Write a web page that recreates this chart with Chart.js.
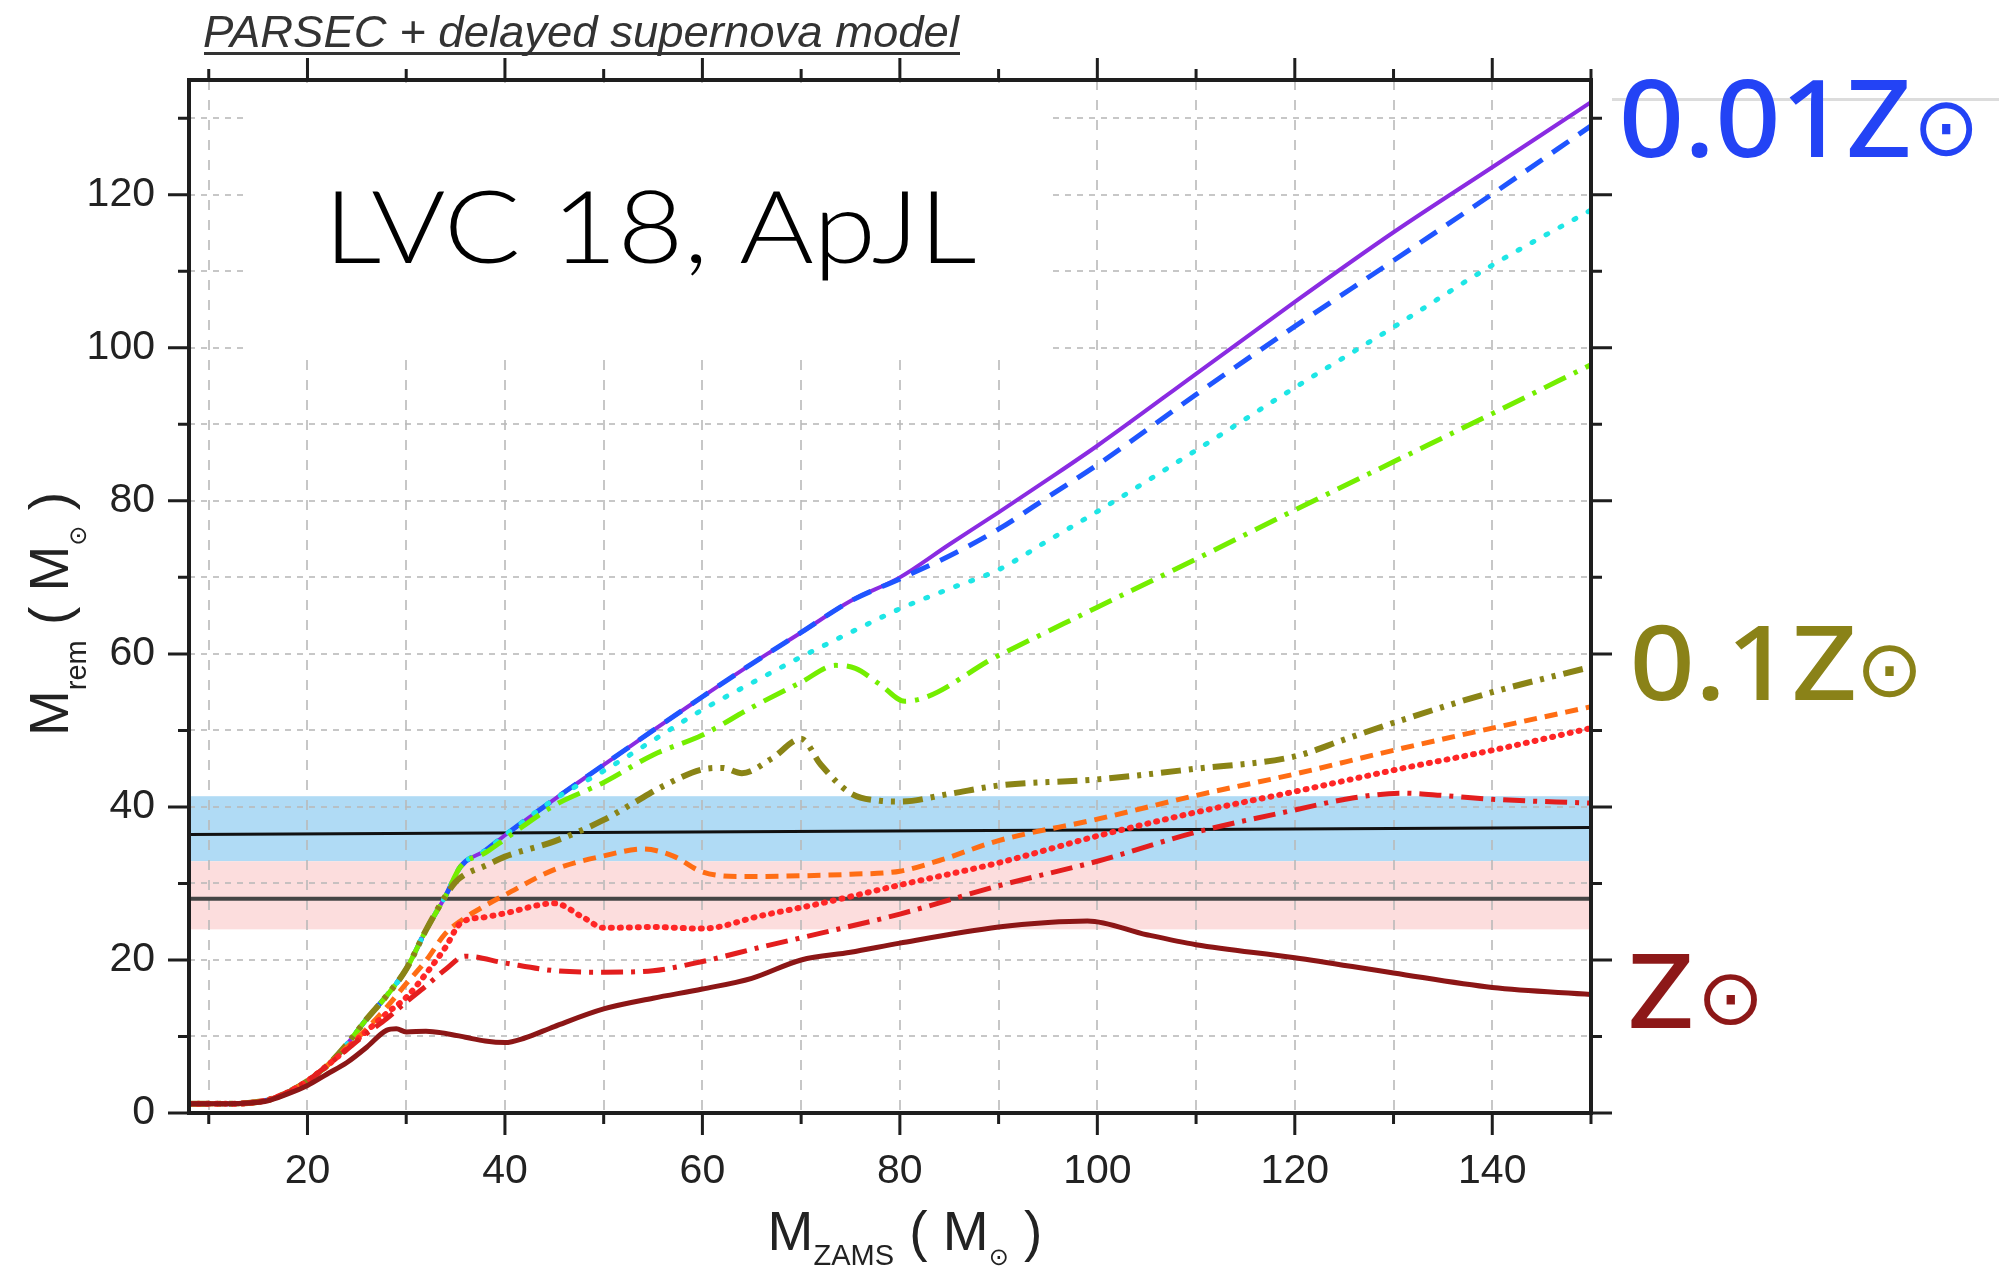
<!DOCTYPE html>
<html>
<head>
<meta charset="utf-8">
<script src="https://cdn.jsdelivr.net/npm/chart.js@4.4.1/dist/chart.umd.min.js"></script>
<style>
  html, body { margin: 0; padding: 0; background: #fff; }
  canvas { display: block; }
</style>
</head>
<body>
<canvas id="grafico" width="1999" height="1268"></canvas>
<script>
// ---- dados (massa ZAMS -> massa do remanescente) ----

const massaBaixa = [8, 10, 12, 14, 16, 18, 20, 22]
const restoBaixo = [1.2, 1.2, 1.2, 1.3, 1.7, 2.7, 4.2, 6.2]

// 0.01 Z sol (roxo, azul, ciano)
const massaRoxo = massaBaixa.concat([24, 26, 28, 30, 32, 34, 35.5, 38, 40, 45, 50, 55, 60, 65, 70, 75, 80, 85, 90, 95, 100, 110, 120, 130, 140, 150])
const restoRoxo = restoBaixo.concat([9.0, 12.3, 15.3, 18.8, 23.9, 28.4, 32.2, 34.3, 36.3, 41.0, 45.5, 50.0, 54.4, 58.7, 62.8, 66.9, 70.0, 74.3, 78.5, 82.8, 87.2, 96.6, 106.0, 115.1, 123.6, 132.1])

const massaAzul = massaBaixa.concat([24, 26, 28, 30, 32, 34, 35.5, 38, 40, 45, 50, 55, 60, 65, 70, 75, 80, 85, 90, 95, 100, 110, 120, 130, 140, 150])
const restoAzul = restoBaixo.concat([9.0, 12.3, 15.3, 18.8, 23.9, 28.4, 32.2, 34.3, 36.3, 41.0, 45.5, 50.0, 54.4, 58.7, 62.8, 66.9, 69.8, 72.8, 76.3, 80.5, 84.7, 93.9, 102.8, 111.4, 120.1, 129.0])

const massaCiano = massaBaixa.concat([24, 26, 28, 30, 32, 34, 35.5, 38, 40, 45, 50, 55, 60, 65, 70, 75, 80, 85, 90, 95, 100, 110, 120, 130, 140, 150])
const restoCiano = restoBaixo.concat([9.0, 12.3, 15.3, 18.8, 23.9, 28.4, 32.2, 34.3, 36.3, 41.0, 44.7, 48.7, 52.7, 56.2, 59.6, 62.8, 65.9, 68.5, 71.0, 74.8, 78.6, 86.6, 94.8, 102.7, 110.8, 118.0])

// 0.1 Z sol (verde, oliva, laranja)
const massaVerde = massaBaixa.concat([24, 26, 28, 30, 32, 34, 35.5, 38, 40, 45, 50, 55, 60, 65, 70, 73.5, 75.5, 78, 80.5, 90, 100, 110, 120, 130, 140, 150])
const restoVerde = restoBaixo.concat([9.0, 12.3, 15.3, 18.8, 23.9, 28.4, 32.2, 34.0, 35.8, 40.2, 43.2, 46.8, 49.4, 53.0, 56.3, 58.5, 58.1, 56.0, 53.8, 59.8, 66.1, 72.4, 78.8, 85.1, 91.4, 97.8])

const massaOliva = massaBaixa.concat([24, 26, 28, 30, 32, 34, 35, 36, 38, 40, 45, 50, 53, 56, 60, 62, 64, 67, 70, 72, 75, 78, 80, 85, 90, 100, 110, 120, 125, 130, 140, 150])
const restoOliva = restoBaixo.concat([9.0, 12.3, 15.3, 18.8, 23.9, 28.4, 30.2, 31.2, 32.3, 33.5, 35.5, 38.3, 40.5, 42.7, 44.9, 45.1, 44.4, 46.3, 48.9, 45.5, 41.8, 40.8, 40.7, 41.7, 42.8, 43.6, 45.0, 46.6, 48.8, 51.0, 55.0, 58.3])

const massaLaranja = massaBaixa.concat([24, 26, 28, 30, 32, 34, 35.6, 38, 40, 45, 50, 54, 57, 60, 64, 70, 75, 80, 84, 90, 100, 110, 120, 130, 140, 150])
const restoLaranja = restoBaixo.concat([8.6, 11.0, 13.8, 16.9, 19.9, 23.5, 25.2, 27.1, 28.5, 31.8, 33.6, 34.5, 33.6, 31.5, 30.9, 31.0, 31.2, 31.6, 33.0, 35.6, 38.4, 41.5, 44.3, 47.4, 50.3, 53.1])

// Z sol (vermelho pontilhado, vermelho traco-ponto, vinho)
const massaVermelho = massaBaixa.concat([24, 26, 28, 30, 32, 34, 35.5, 38, 40, 45, 48, 50, 55, 60, 66, 72, 80, 90, 100, 110, 120, 130, 140, 150])
const restoVermelho = restoBaixo.concat([8.4, 10.7, 13.0, 15.1, 18.2, 21.7, 24.8, 25.6, 26.1, 27.4, 25.5, 24.2, 24.3, 24.1, 25.8, 27.4, 29.8, 32.7, 36.2, 39.3, 42.0, 44.8, 47.4, 50.3])

const massaTracoPonto = massaBaixa.concat([24, 26, 28, 30, 32, 34, 36, 40, 45, 50, 55, 60, 66, 72, 80, 90, 100, 110, 120, 126, 131, 135, 140, 150])
const restoTracoPonto = restoBaixo.concat([8.3, 10.4, 12.3, 14.5, 16.6, 18.8, 20.5, 19.6, 18.6, 18.4, 18.6, 19.8, 21.7, 23.5, 26.0, 29.7, 32.9, 36.7, 39.6, 41.2, 41.8, 41.5, 41.0, 40.5])

const massaVinho = [8, 10, 12, 14, 16, 18, 20, 22, 24, 26, 28, 29, 30, 32, 34, 36, 38, 40, 42, 45, 50, 55, 60, 65, 70, 75, 80, 90, 95, 99, 105, 110, 120, 130, 140, 150]
const restoVinho = [1.2, 1.2, 1.2, 1.3, 1.6, 2.5, 3.6, 5.1, 6.6, 8.6, 10.8, 11.0, 10.6, 10.7, 10.4, 9.9, 9.4, 9.2, 9.8, 11.3, 13.6, 15.0, 16.2, 17.6, 20.0, 21.0, 22.2, 24.3, 24.9, 25.1, 23.3, 22.0, 20.3, 18.3, 16.4, 15.5]

// faixas e linhas horizontais (massas observadas)
const faixaAzul = [32.9, 41.4]
const faixaRosa = [24.0, 32.9]
const extremosLinha = [8, 150]
const linhaM1 = [36.4, 37.3]
const linhaM2 = [28.0, 28.0]

// eixos
const marcasX = [10, 20, 30, 40, 50, 60, 70, 80, 90, 100, 110, 120, 130, 140, 150]
const rotulosX = [20, 40, 60, 80, 100, 120, 140]
const marcasY = [0, 10, 20, 30, 40, 50, 60, 70, 80, 90, 100, 110, 120, 130]
const rotulosY = [0, 20, 40, 60, 80, 100, 120]

/*========================================================*/

function serie(massas, restos, cor, largura, traco, ordem, ponta){
    return {
        data: massas.map((m, i) => ({ x: m, y: restos[i] })),
        borderColor: cor,
        borderWidth: largura,
        borderDash: traco,
        borderCapStyle: ponta || 'butt',
        borderJoinStyle: 'round',
        pointRadius: 0,
        fill: false,
        cubicInterpolationMode: 'monotone',
        order: ordem
    }
}

function textoAjustado(ctx, texto, fonte, esq, dir, topo, base, cor){
    ctx.font = fonte(100)
    let alt = ctx.measureText('H').actualBoundingBoxAscent
    let tam = 100 * (base - topo) / alt
    ctx.font = fonte(tam)
    let m = ctx.measureText(texto)
    let larg = m.actualBoundingBoxLeft + m.actualBoundingBoxRight
    ctx.save()
    ctx.translate(esq, base)
    ctx.scale((dir - esq) / larg, 1)
    ctx.fillStyle = cor
    ctx.textAlign = 'left'
    ctx.textBaseline = 'alphabetic'
    ctx.fillText(texto, m.actualBoundingBoxLeft, 0)
    ctx.restore()
}

function simboloAjustado(ctx, texto, fonte, esq, dir, topo, fundo, cor){
    ctx.font = fonte(100)
    let m = ctx.measureText(texto)
    let tam = 100 * (fundo - topo) / (m.actualBoundingBoxAscent + m.actualBoundingBoxDescent)
    ctx.font = fonte(tam)
    m = ctx.measureText(texto)
    let larg = m.actualBoundingBoxLeft + m.actualBoundingBoxRight
    ctx.save()
    ctx.translate(esq, topo + m.actualBoundingBoxAscent)
    ctx.scale((dir - esq) / larg, 1)
    ctx.fillStyle = cor
    ctx.textAlign = 'left'
    ctx.textBaseline = 'alphabetic'
    ctx.fillText(texto, m.actualBoundingBoxLeft, 0)
    ctx.restore()
}

function tituloComIndice(ctx, partes, cx, base){
    let total = 0
    partes.forEach(p => { ctx.font = p[1]; total += ctx.measureText(p[0]).width })
    let x = cx - total / 2
    ctx.textAlign = 'left'
    ctx.textBaseline = 'alphabetic'
    partes.forEach(p => {
        ctx.font = p[1]
        ctx.fillText(p[0], x, base + p[2])
        x += ctx.measureText(p[0]).width
    })
}

/*========================================================*/

const fundoPlugin = {
    id: 'faixas',
    beforeDraw(chart){
        const { ctx, chartArea: a, scales: { y } } = chart
        ctx.save()
        ctx.fillStyle = 'rgb(176, 219, 245)'
        let t = y.getPixelForValue(faixaAzul[1]), b = y.getPixelForValue(faixaAzul[0])
        ctx.fillRect(a.left, t, a.right - a.left, b - t)
        ctx.fillStyle = 'rgb(252, 221, 221)'
        t = y.getPixelForValue(faixaRosa[1]); b = y.getPixelForValue(faixaRosa[0])
        ctx.fillRect(a.left, t, a.right - a.left, b - t)
        ctx.restore()
    },
    beforeDatasetsDraw(chart){
        // caixa branca atras do texto "LVC 18, ApJL"
        const { ctx, chartArea: a, scales: { x, y } } = chart
        let l = x.getPixelForValue(14), r = x.getPixelForValue(95)
        let t = Math.max(y.getPixelForValue(135), a.top + 3), b = y.getPixelForValue(98.5)
        ctx.save()
        ctx.fillStyle = '#fff'
        ctx.fillRect(l, t, r - l, b - t)
        ctx.restore()
    }
}

const molduraPlugin = {
    id: 'moldura',
    afterDraw(chart){
        const { ctx, chartArea: a, scales: { x, y } } = chart
        ctx.save()
        ctx.strokeStyle = '#1e1e1e'
        ctx.lineWidth = 3
        ctx.beginPath()
        marcasX.forEach(v => {
            let px = x.getPixelForValue(v)
            let len = rotulosX.includes(v) ? 22 : 11
            ctx.moveTo(px, a.bottom); ctx.lineTo(px, a.bottom + len)
            ctx.moveTo(px, a.top); ctx.lineTo(px, a.top - len)
        })
        marcasY.forEach(v => {
            let py = y.getPixelForValue(v)
            let len = rotulosY.includes(v) ? 21 : 11
            ctx.moveTo(a.left, py); ctx.lineTo(a.left - len, py)
            ctx.moveTo(a.right, py); ctx.lineTo(a.right + len, py)
        })
        ctx.stroke()
        ctx.lineWidth = 4
        ctx.strokeRect(a.left, a.top, a.right - a.left, a.bottom - a.top)

        // titulo
        textoAjustado(ctx, 'PARSEC + delayed supernova model', s => `italic ${s}px "Liberation Sans", Arial, sans-serif`, 204, 960, 16, 47, '#333')
        ctx.fillStyle = '#333'
        ctx.fillRect(204, 52, 756, 3)

        // texto grande
        textoAjustado(ctx, 'LVC 18, ApJL', s => `300 ${s}px Lato, "Noto Sans", sans-serif`, 335, 975, 190, 263, '#000')

        // linha cinza no canto
        ctx.fillStyle = '#dcdcdc'
        ctx.fillRect(1612, 98, 387, 3)

        // rotulos das metalicidades
        const fonteZ = s => `500 ${s}px "Noto Sans", sans-serif`
        const fonteSol = s => `${s}px "DejaVu Sans", sans-serif`
        textoAjustado(ctx, '0.01Z', fonteZ, 1623, 1908, 80, 157, '#2343f5')
        simboloAjustado(ctx, '⊙', fonteSol, 1920, 1973, 102, 157, '#2343f5')
        textoAjustado(ctx, '0.1Z', fonteZ, 1634, 1854, 625, 700, '#8a8218')
        simboloAjustado(ctx, '⊙', fonteSol, 1863, 1917, 645, 698, '#8a8218')
        textoAjustado(ctx, 'Z', fonteZ, 1631, 1691, 954, 1028, '#8d1818')
        simboloAjustado(ctx, '⊙', fonteSol, 1704, 1757, 974, 1026, '#8d1818')

        // titulos dos eixos
        const grande = '55px "Liberation Sans", Arial, sans-serif'
        const pequeno = '29px "Liberation Sans", Arial, sans-serif'
        const solPeq = '24px "DejaVu Sans", sans-serif'
        ctx.fillStyle = '#222'
        tituloComIndice(ctx, [['M', grande, 0], ['ZAMS', pequeno, 15], [' ( M', grande, 0], ['⊙', solPeq, 15], [' )', grande, 0]], 905, 1250)
        ctx.save()
        ctx.translate(68, 614)
        ctx.rotate(-Math.PI / 2)
        tituloComIndice(ctx, [['M', grande, 0], ['rem', pequeno, 18], [' ( M', grande, 0], ['⊙', solPeq, 18], [' )', grande, 0]], 0, 0)
        ctx.restore()
        ctx.restore()
    }
}

/*========================================================*/

const fonteTick = { family: '"Liberation Sans", Arial, sans-serif', size: 41 }

var grafico = new Chart(document.getElementById('grafico'), {
    type: 'line',
    data: {
        datasets: [
            serie(massaRoxo, restoRoxo, '#8a2be2', 4, [], 9),
            serie(massaAzul, restoAzul, '#1f55ff', 5, [20, 12], 8),
            serie(massaCiano, restoCiano, '#1ee6e6', 5, [2, 14], 7, 'round'),
            serie(massaVerde, restoVerde, '#74ee00', 5, [24, 9, 4, 9], 6),
            serie(massaOliva, restoOliva, '#8a8416', 6, [20, 8, 4, 8, 4, 8], 5),
            serie(massaLaranja, restoLaranja, '#ff6d14', 5, [13, 8], 4),
            serie(massaVermelho, restoVermelho, '#ff2626', 6, [1, 8], 3, 'round'),
            serie(massaTracoPonto, restoTracoPonto, '#e31e1e', 5, [22, 8, 4, 8], 2),
            serie(massaVinho, restoVinho, '#8c1616', 5, [], 1),
            serie(extremosLinha, linhaM1, '#111', 3, [], 10),
            serie(extremosLinha, linhaM2, '#444', 4, [], 11)
        ]
    },
    options: {
        responsive: false,
        animation: false,
        devicePixelRatio: 1,
        layout: { padding: { top: 80, right: 408, left: 0, bottom: 0 } },
        plugins: { legend: { display: false }, tooltip: { enabled: false } },
        scales: {
            x: {
                type: 'linear', min: 8, max: 150,
                afterBuildTicks: s => { s.ticks = marcasX.map(v => ({ value: v })) },
                afterFit: s => { s.height = 155 },
                grid: { color: 'rgba(185,185,185,0.8)', lineWidth: 2, drawTicks: false },
                border: { display: false, dash: [10, 10] },
                ticks: {
                    callback: v => rotulosX.includes(v) ? String(v) : '',
                    autoSkip: false, maxRotation: 0, padding: 34,
                    font: fonteTick, color: '#222'
                }
            },
            y: {
                min: 0, max: 135,
                afterBuildTicks: s => { s.ticks = marcasY.map(v => ({ value: v })) },
                afterFit: s => { s.width = 189 },
                grid: { color: 'rgba(185,185,185,0.8)', lineWidth: 2, drawTicks: false },
                border: { display: false, dash: [6, 6] },
                ticks: {
                    callback: v => rotulosY.includes(v) ? String(v) : '',
                    autoSkip: false, padding: 34,
                    font: fonteTick, color: '#222'
                }
            }
        }
    },
    plugins: [fundoPlugin, molduraPlugin]
})
</script>
</body>
</html>
